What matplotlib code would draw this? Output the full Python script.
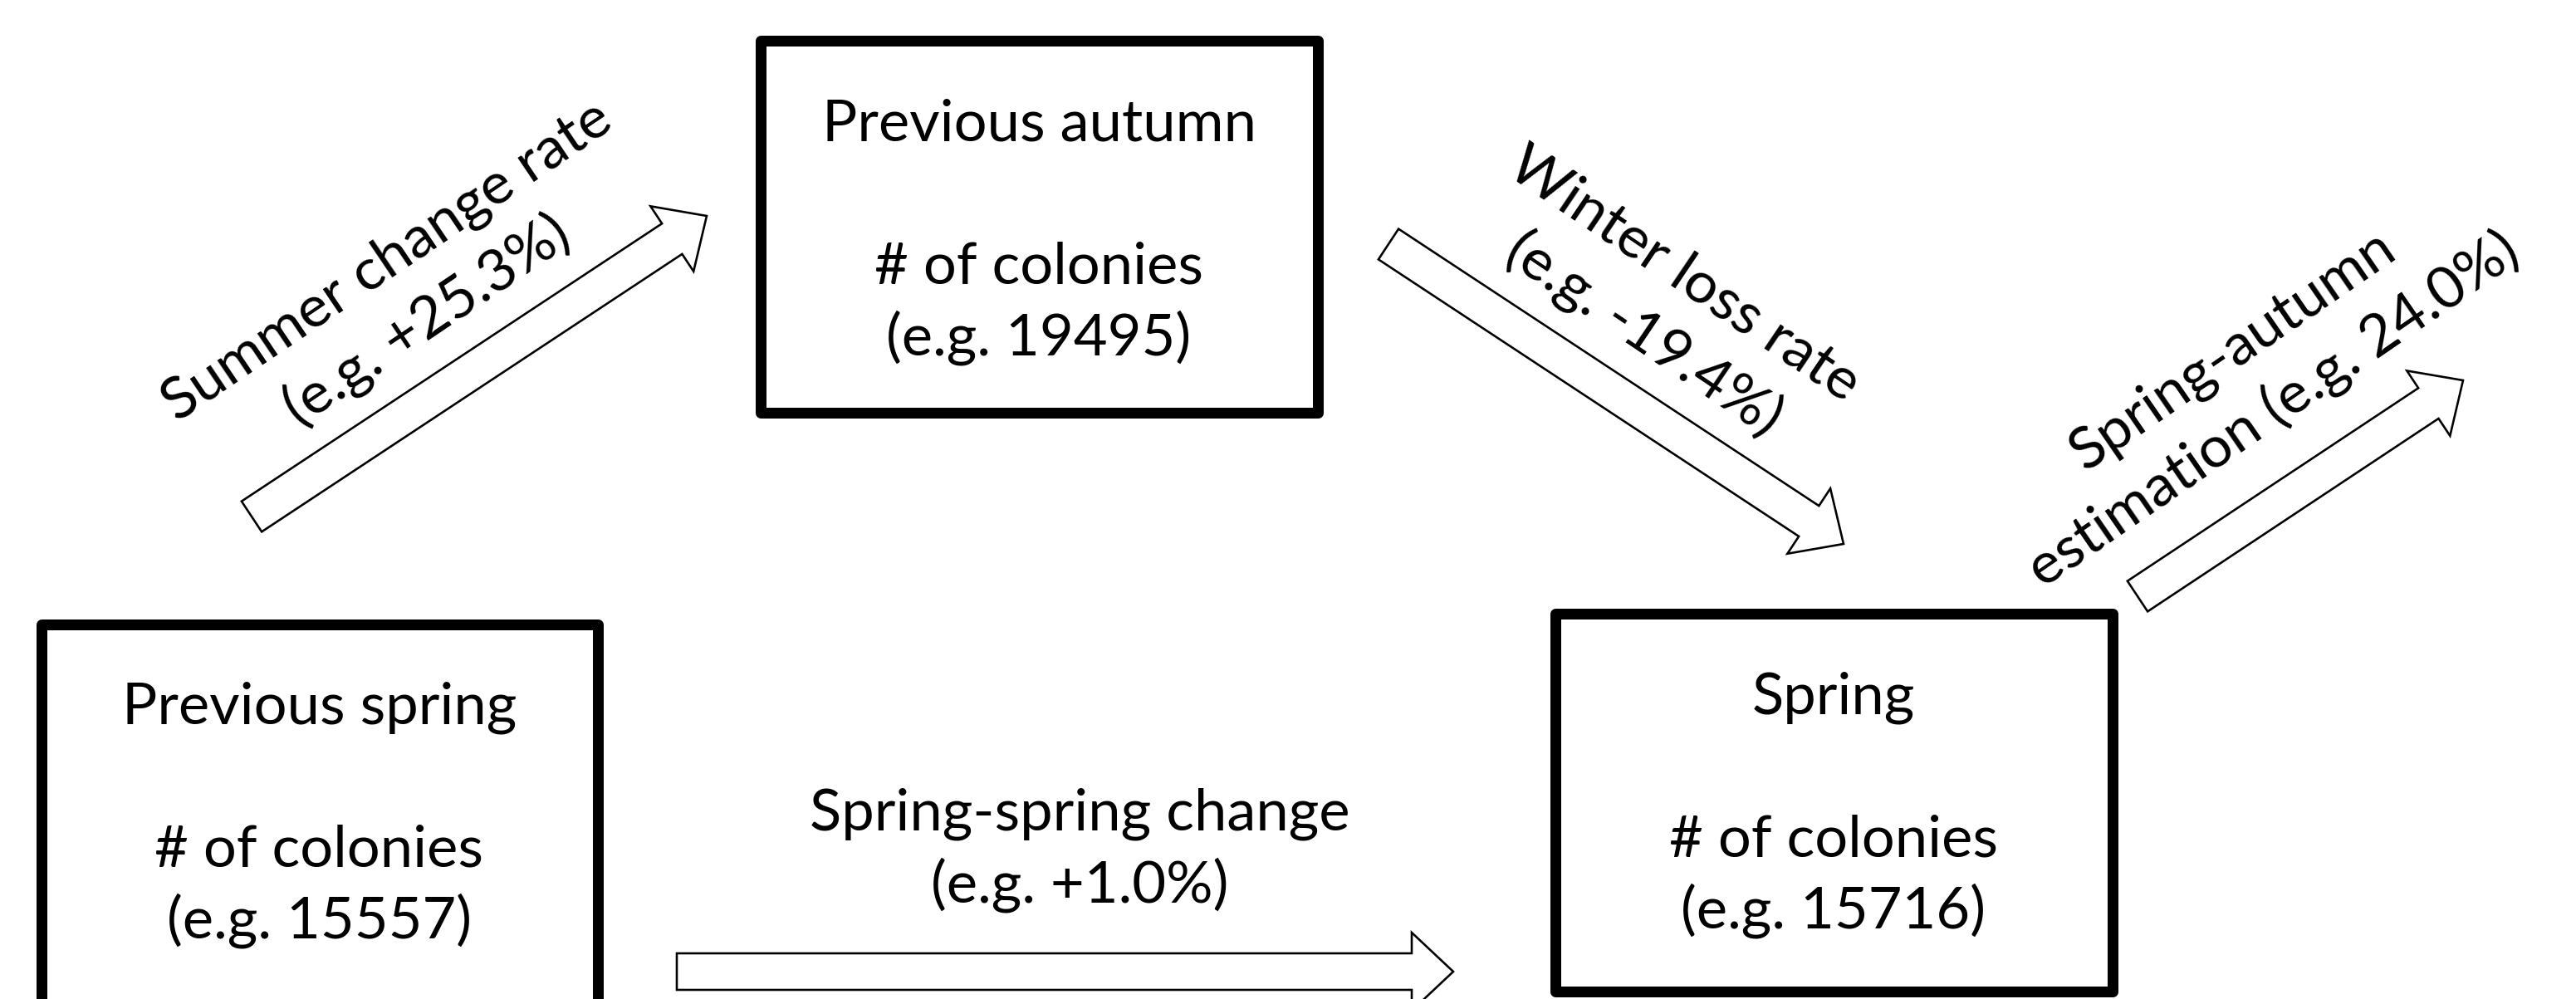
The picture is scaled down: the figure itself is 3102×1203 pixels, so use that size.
import numpy as np
import matplotlib
matplotlib.use("Agg")
import matplotlib.pyplot as plt
from matplotlib.patches import Rectangle, FancyArrow

FONT = ["Lato", "DejaVu Sans"]

# ---- content ----
box_titles = ["Previous autumn", "Previous spring", "Spring"]
box_counts = [19495, 15557, 15716]

arrow_names = ["Summer change rate", "Winter loss rate", "Spring-autumn", "Spring-spring change"]
arrow_values = ["+25.3%", "-19.4%", "24.0%", "+1.0%"]

# ---- layout (pixels of the 3102x1203 canvas, y down) ----
box_left = [909, 43, 1866]
box_right = [1593, 726, 2550]
box_top = [42, 745, 732]
box_bottom = [503, 1230, 1200]
box_lw_px = 13

arrow_tail = [(303, 622), (1672, 294), (2574, 718), (815, 1170)]
arrow_tip = [(851, 260), (2220, 655), (2966, 458), (1750, 1170)]
shaft_w = 44
head_w = 94
head_l = 50

# rotated label blocks: center and angle
label_center = [(490, 350), (2004, 366), (2713, 457), (1300, 1023)]
label_angle = [34, -34, 34.5, 0]
line_gap = 86

W, H, DPI = 3102, 1203, 100
fig = plt.figure(figsize=(W / DPI, H / DPI), dpi=DPI)
ax = fig.add_axes([0, 0, 1, 1])
ax.set_xlim(0, W)
ax.set_ylim(H, 0)
ax.axis("off")

# pick font size so that the bottom label has the reference width
renderer = fig.canvas.get_renderer()
probe = ax.text(0, 0, "Spring-spring change", fontsize=50, family=FONT)
fs = 50 * 650 / probe.get_window_extent(renderer).width
probe.remove()

px2pt = 72 / DPI

# boxes
for i, title in enumerate(box_titles):
    h = box_lw_px / 2
    x0, x1 = box_left[i] + h, box_right[i] - h
    y0, y1 = box_top[i] + h, box_bottom[i] - h
    ax.add_patch(Rectangle((x0, y0), x1 - x0, y1 - y0, facecolor="white",
                           edgecolor="black", lw=box_lw_px * px2pt, joinstyle="round"))
    cx = (box_left[i] + box_right[i]) / 2
    base = box_top[i] + 127
    ax.text(cx, base, title, ha="center", va="baseline", fontsize=fs, family=FONT)
    ax.text(cx, base + 2 * line_gap, "# of colonies", ha="center", va="baseline", fontsize=fs, family=FONT)
    ax.text(cx, base + 3 * line_gap, f"(e.g. {box_counts[i]})", ha="center", va="baseline",
            fontsize=fs, family=FONT)

# arrows
for (tx, ty), (hx, hy) in zip(arrow_tail, arrow_tip):
    ax.add_patch(FancyArrow(tx, ty, hx - tx, hy - ty, width=shaft_w, head_width=head_w,
                            head_length=head_l, length_includes_head=True,
                            facecolor="white", edgecolor="black", lw=2.6 * px2pt,
                            joinstyle="miter"))

# arrow labels
lines = [
    [arrow_names[0], f"(e.g. {arrow_values[0]})"],
    [arrow_names[1], f"(e.g. {arrow_values[1]})"],
    [arrow_names[2], f"estimation (e.g. {arrow_values[2]})"],
    [arrow_names[3], f"(e.g. {arrow_values[3]})"],
]
for (cx, cy), ang, pair in zip(label_center, label_angle, lines):
    t = np.deg2rad(ang)
    nx, ny = np.sin(t), np.cos(t)
    for k, s in enumerate(pair):
        off = (k - 0.5) * line_gap
        ax.text(cx + off * nx, cy + off * ny, s, rotation=ang, rotation_mode="anchor",
                ha="center", va="center", fontsize=fs, family=FONT)

fig.savefig("out.png", dpi=DPI, facecolor="white")
